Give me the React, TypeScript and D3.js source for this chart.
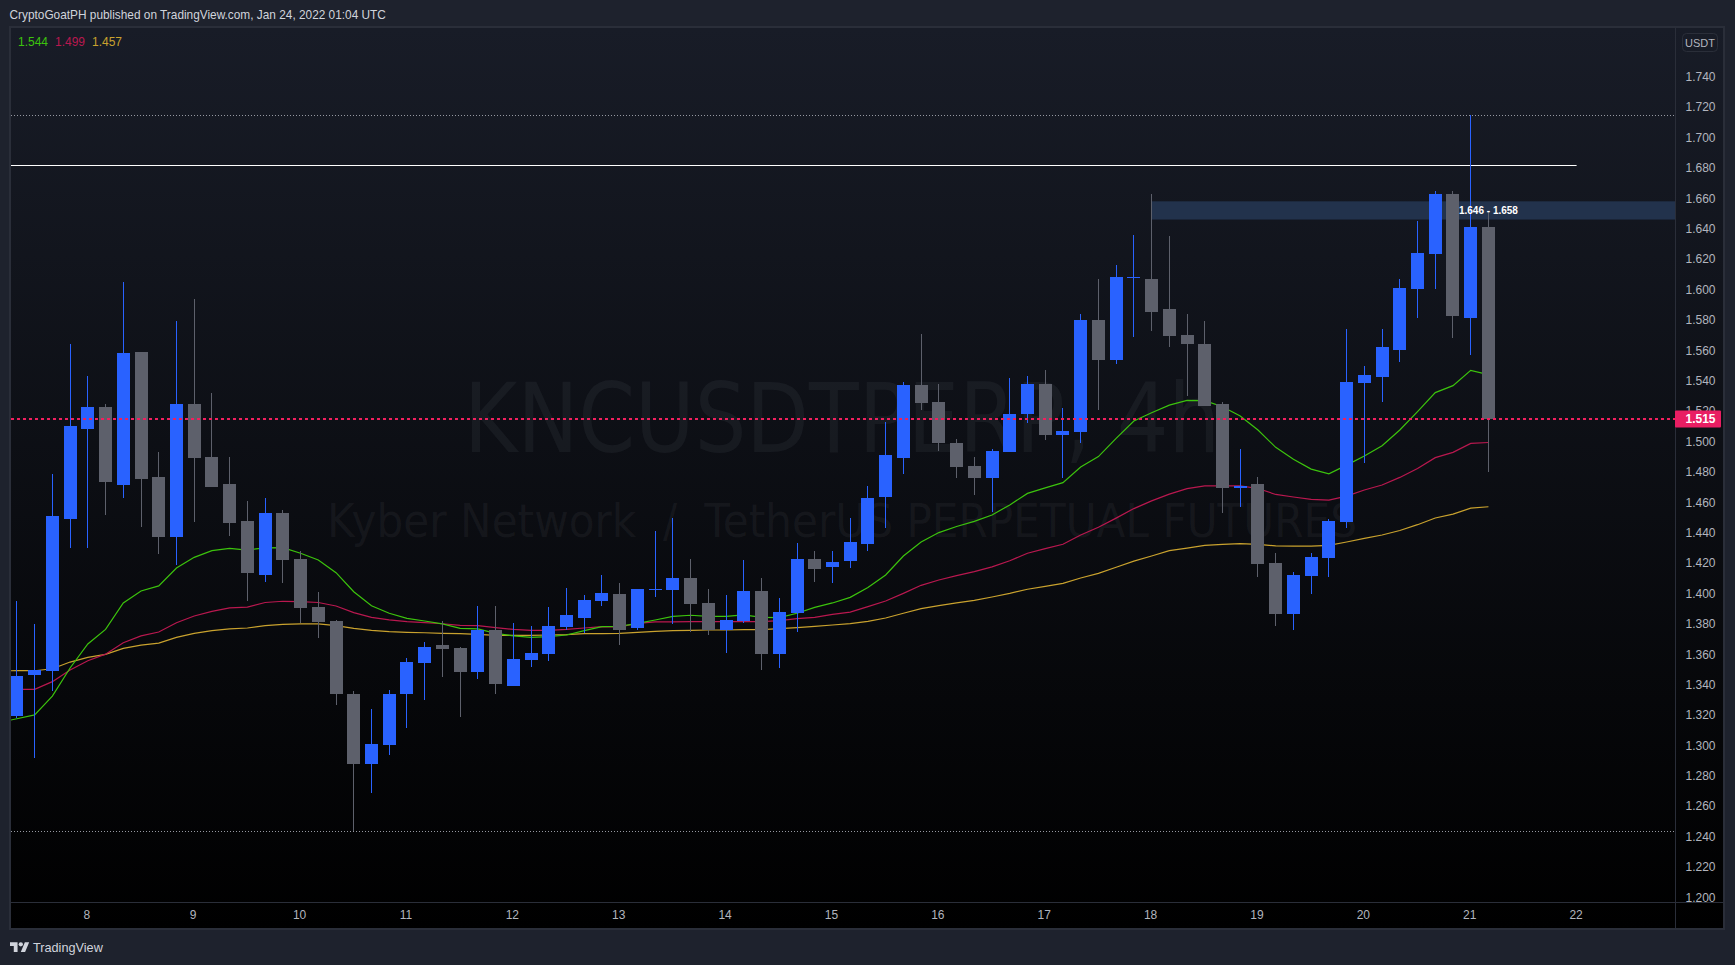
import * as d3 from 'd3';
import { useEffect, useRef } from 'react';

const WIDTH = 1735;
const HEIGHT = 965;

// candles, 4h bars
const opens = [
  1.3193, 1.3463, 1.3489, 1.4489, 1.5082, 1.5226, 1.4713, 1.5588, 1.4766, 1.4371, 1.5246, 1.4897, 1.472, 1.4476,
  1.4121, 1.4529, 1.4226, 1.391, 1.3818, 1.3338, 1.2877, 1.3002, 1.3338, 1.3542, 1.366, 1.364, 1.3482, 1.3759,
  1.339, 1.3561, 1.3601, 1.3779, 1.3838, 1.395, 1.3996, 1.3772, 1.4022, 1.4022, 1.4101, 1.3937, 1.3759, 1.3818,
  1.4015, 1.3601, 1.387, 1.4226, 1.4173, 1.4213, 1.4325, 1.4634, 1.4891, 1.5371, 1.5259, 1.499, 1.4838, 1.4759,
  1.493, 1.518, 1.5378, 1.5042, 1.5062, 1.5799, 1.5536, 1.6076, 1.6069, 1.5872, 1.5701, 1.5641, 1.5247, 1.4693,
  1.4719, 1.42, 1.3864, 1.4114, 1.4232, 1.4469, 1.5385, 1.5424, 1.5602, 1.6003, 1.6234, 1.6628, 1.5812, 1.6411,
];
const highs = [
  1.395, 1.38, 1.4786, 1.5641, 1.543, 1.5246, 1.6049, 1.5588, 1.493, 1.579, 1.5937, 1.5319, 1.4897, 1.4608,
  1.4628, 1.4549, 1.4279, 1.4009, 1.3825, 1.3357, 1.3239, 1.3364, 1.3575, 1.368, 1.3818, 1.3647, 1.3917, 1.3917,
  1.3805, 1.3785, 1.391, 1.4035, 1.399, 1.4121, 1.4068, 1.4029, 1.441, 1.4496, 1.4226, 1.4029, 1.399, 1.422,
  1.4101, 1.397, 1.4332, 1.4279, 1.4279, 1.4496, 1.4707, 1.5128, 1.5391, 1.5707, 1.5378, 1.5016, 1.4897, 1.495,
  1.5417, 1.543, 1.547, 1.522, 1.5838, 1.6069, 1.6161, 1.6358, 1.6628, 1.6352, 1.5839, 1.5793, 1.526, 1.495,
  1.4765, 1.4265, 1.414, 1.4265, 1.4489, 1.574, 1.5497, 1.574, 1.6069, 1.6451, 1.6648, 1.6648, 1.7146, 1.6517,
];
const lows = [
  1.318, 1.2919, 1.3357, 1.4299, 1.4299, 1.4516, 1.4628, 1.4437, 1.4259, 1.4187, 1.447, 1.47, 1.4378, 1.395,
  1.4075, 1.4068, 1.3805, 1.3706, 1.3265, 1.2436, 1.2686, 1.2936, 1.3114, 1.3298, 1.345, 1.3186, 1.3436, 1.3338,
  1.339, 1.3515, 1.3555, 1.376, 1.3737, 1.3917, 1.366, 1.3759, 1.3976, 1.38, 1.3746, 1.3726, 1.3607, 1.3805,
  1.3496, 1.3509, 1.3746, 1.4075, 1.4068, 1.4167, 1.4279, 1.443, 1.4786, 1.5207, 1.4937, 1.4759, 1.4647, 1.4536,
  1.493, 1.5121, 1.5009, 1.4759, 1.499, 1.5207, 1.551, 1.5687, 1.5726, 1.5622, 1.5299, 1.5233, 1.4528, 1.4568,
  1.4107, 1.3785, 1.3758, 1.3995, 1.4107, 1.443, 1.4857, 1.526, 1.5523, 1.5812, 1.6003, 1.5681, 1.5569, 1.4798,
];
const closes = [
  1.3456, 1.3496, 1.4509, 1.5101, 1.5226, 1.4733, 1.5582, 1.4753, 1.4371, 1.5246, 1.4891, 1.47, 1.4463, 1.4134,
  1.4529, 1.422, 1.3904, 1.3812, 1.3338, 1.2877, 1.3009, 1.3338, 1.3548, 1.3647, 1.3634, 1.3482, 1.3759, 1.3403,
  1.3568, 1.3607, 1.3785, 1.3858, 1.3956, 1.4, 1.3759, 1.4029, 1.4029, 1.4101, 1.393, 1.3759, 1.3825, 1.4016,
  1.3601, 1.3877, 1.4226, 1.416, 1.4206, 1.4338, 1.4628, 1.4911, 1.5371, 1.5253, 1.499, 1.4832, 1.4759, 1.4937,
  1.518, 1.5378, 1.5042, 1.5069, 1.5799, 1.5536, 1.6082, 1.6082, 1.5852, 1.5694, 1.5641, 1.5233, 1.4693, 1.4706,
  1.4193, 1.3864, 1.412, 1.4239, 1.4476, 1.5391, 1.5437, 1.5622, 1.601, 1.624, 1.6628, 1.5826, 1.6411, 1.515,
];

// moving averages, first value belongs to the bar just off the left edge
const greenLine = [
  1.315, 1.3175, 1.32, 1.3324, 1.3509, 1.3667, 1.3763, 1.3937, 1.4016, 1.4049, 1.4167, 1.4237, 1.4281, 1.4296,
  1.4285, 1.43, 1.4301, 1.4264, 1.422, 1.4136, 1.4011, 1.3919, 1.3869, 1.3836, 1.3818, 1.3799, 1.377, 1.3766,
  1.3737, 1.372, 1.3711, 1.3715, 1.3726, 1.3755, 1.3781, 1.3783, 1.3803, 1.3825, 1.3849, 1.3856, 1.3849, 1.3849,
  1.3858, 1.3842, 1.384, 1.3869, 1.3908, 1.3937, 1.3974, 1.4038, 1.4121, 1.4246, 1.4338, 1.44, 1.444, 1.4474,
  1.4516, 1.4582, 1.4658, 1.4694, 1.4729, 1.4832, 1.49, 1.502, 1.5134, 1.5189, 1.5239, 1.527, 1.5268, 1.5228,
  1.5167, 1.5075, 1.4961, 1.4882, 1.4818, 1.4787, 1.4844, 1.4904, 1.4971, 1.5075, 1.5196, 1.5321, 1.5367, 1.5468,
  1.544,
];
const redLine = [
  1.3365, 1.3368, 1.3368, 1.3419, 1.3496, 1.3557, 1.36, 1.3675, 1.372, 1.3746, 1.3807, 1.3851, 1.3882, 1.3904,
  1.391, 1.394, 1.3948, 1.3946, 1.394, 1.3917, 1.3873, 1.3842, 1.3825, 1.3814, 1.3807, 1.38, 1.379, 1.3788,
  1.3775, 1.3763, 1.3757, 1.3757, 1.3763, 1.3772, 1.3781, 1.3779, 1.3803, 1.3812, 1.3812, 1.3814, 1.3814, 1.3814,
  1.3814, 1.3814, 1.3821, 1.3834, 1.3842, 1.3862, 1.3877, 1.3913, 1.395, 1.4, 1.4053, 1.4088, 1.4117, 1.4143,
  1.4174, 1.4215, 1.4264, 1.4294, 1.4323, 1.4384, 1.4435, 1.4495, 1.4558, 1.4609, 1.4653, 1.4689, 1.4708, 1.4708,
  1.4708, 1.469, 1.4651, 1.4634, 1.4618, 1.4614, 1.464, 1.468, 1.4713, 1.4763, 1.4822, 1.4893, 1.4928, 1.4987,
  1.4993,
];
const yellowLine = [
  1.349, 1.3491, 1.3491, 1.3504, 1.3548, 1.3579, 1.3599, 1.3638, 1.366, 1.3673, 1.371, 1.3737, 1.3755, 1.3766,
  1.3772, 1.3788, 1.3796, 1.3799, 1.3799, 1.3788, 1.377, 1.3757, 1.3748, 1.3744, 1.3741, 1.3737, 1.3735, 1.373,
  1.3724, 1.3724, 1.3724, 1.3726, 1.3728, 1.3735, 1.3735, 1.3737, 1.3744, 1.375, 1.3755, 1.3757, 1.3759, 1.3759,
  1.3761, 1.3761, 1.3768, 1.3775, 1.3783, 1.3792, 1.3801, 1.3816, 1.3838, 1.3869, 1.39, 1.3919, 1.3937, 1.3954,
  1.3976, 1.4, 1.4027, 1.4046, 1.4066, 1.4101, 1.4132, 1.4172, 1.4212, 1.4246, 1.4281, 1.4298, 1.4316, 1.4322,
  1.4327, 1.4322, 1.4313, 1.4311, 1.4311, 1.4316, 1.4338, 1.4362, 1.4384, 1.4414, 1.4452, 1.4496, 1.4522, 1.4561,
  1.457,
];

const priceTicks = [
  1.2, 1.22, 1.24, 1.26, 1.28, 1.3, 1.32, 1.34, 1.36, 1.38, 1.4, 1.42, 1.44, 1.46, 1.48, 1.5, 1.52, 1.54, 1.56, 1.58,
  1.6, 1.62, 1.64, 1.66, 1.68, 1.7, 1.72, 1.74,
];
const dayLabels = ['8', '9', '10', '11', '12', '13', '14', '15', '16', '17', '18', '19', '20', '21', '22'];
const dayBars = [4, 10, 16, 22, 28, 34, 40, 46, 52, 58, 64, 70, 76, 82, 88];

const legendValues = ['1.544', '1.499', '1.457'];
const lastPrice = 1.515;
const highLevel = 1.7146;
const lowLevel = 1.2436;
const whiteLevel = 1.6819;
const zoneLow = 1.646;
const zoneHigh = 1.658;
const zoneStartBar = 64;
const whiteEndBar = 88;

const BLUE = '#2962ff';
const GRAY = '#5d606b';
const GREEN = '#3cc30d';
const RED = '#b9184f';
const YELLOW = '#c9a22e';
const UI_FONT = '"Liberation Sans", Arial, sans-serif';

const App = () => {
  const svgRef = useRef<SVGSVGElement | null>(null);

  useEffect(() => {
    const svg = d3.select(svgRef.current);
    svg.selectAll('*').remove();

    const plot = { left: 11, right: 1675, top: 28, bottom: 902, outerRight: 1723, outerBottom: 928 };
    const x = d3.scaleLinear().domain([0, 88]).range([16.4, 1576.6]);
    const y = d3.scaleLinear().domain([1.74, 1.2]).range([76.7, 897.3]);
    const barX = (i: number) => Math.round(x(i));

    // frame and background
    svg.append('rect').attr('width', WIDTH).attr('height', HEIGHT).attr('fill', '#1e222d');
    const defs = svg.append('defs');
    const grad = defs
      .append('linearGradient')
      .attr('id', 'pane-bg')
      .attr('x1', 0)
      .attr('x2', 0)
      .attr('y1', 0)
      .attr('y2', 1);
    grad.append('stop').attr('offset', '0%').attr('stop-color', '#181c27');
    grad.append('stop').attr('offset', '100%').attr('stop-color', '#000000');
    defs
      .append('clipPath')
      .attr('id', 'pane-clip')
      .append('rect')
      .attr('x', plot.left)
      .attr('y', plot.top)
      .attr('width', plot.right - plot.left)
      .attr('height', plot.bottom - plot.top);

    svg
      .append('rect')
      .attr('x', plot.left - 2)
      .attr('y', plot.top - 2)
      .attr('width', plot.outerRight - plot.left + 4)
      .attr('height', plot.outerBottom - plot.top + 4)
      .attr('fill', '#2a2e39');
    svg
      .append('rect')
      .attr('x', plot.left)
      .attr('y', plot.top)
      .attr('width', plot.outerRight - plot.left)
      .attr('height', plot.outerBottom - plot.top)
      .attr('fill', 'url(#pane-bg)');

    // watermark
    const mark = svg.append('g').attr('fill', '#787b86').attr('fill-opacity', 0.1).attr('text-anchor', 'middle');
    mark
      .append('text')
      .attr('x', 842)
      .attr('y', 451.5)
      .attr('font-family', '"DejaVu Sans", sans-serif')
      .attr('font-size', 96)
      .attr('textLength', 756)
      .attr('lengthAdjust', 'spacingAndGlyphs')
      .text('KNCUSDTPERP, 4h');
    mark
      .append('text')
      .attr('x', 842)
      .attr('y', 536.5)
      .attr('font-family', '"DejaVu Sans", sans-serif')
      .attr('font-size', 46)
      .attr('textLength', 1030)
      .attr('lengthAdjust', 'spacingAndGlyphs')
      .style('white-space', 'pre')
      .text('Kyber Network  /  TetherUS PERPETUAL FUTURES');

    const pane = svg.append('g').attr('clip-path', 'url(#pane-clip)');

    // drawings
    pane
      .append('rect')
      .attr('x', x(zoneStartBar) + 0.5)
      .attr('y', y(zoneHigh))
      .attr('width', plot.right - x(zoneStartBar))
      .attr('height', y(zoneLow) - y(zoneHigh))
      .attr('fill', '#22324c');
    [highLevel, lowLevel].forEach((level) => {
      pane
        .append('line')
        .attr('x1', plot.left)
        .attr('x2', plot.right)
        .attr('y1', Math.round(y(level)) + 0.5)
        .attr('y2', Math.round(y(level)) + 0.5)
        .attr('stroke', '#9598a1')
        .attr('stroke-width', 1)
        .attr('stroke-dasharray', '1 2');
    });
    pane
      .append('line')
      .attr('x1', plot.left)
      .attr('x2', x(whiteEndBar))
      .attr('y1', Math.round(y(whiteLevel)) + 0.5)
      .attr('y2', Math.round(y(whiteLevel)) + 0.5)
      .attr('stroke', '#ffffff')
      .attr('stroke-width', 1);

    // moving averages
    const line = d3
      .line<number>()
      .x((_, i) => x(i - 1) + 0.5)
      .y((d) => y(d));
    [
      { values: yellowLine, color: YELLOW },
      { values: redLine, color: RED },
      { values: greenLine, color: GREEN },
    ].forEach((s) => {
      pane
        .append('path')
        .attr('d', line(s.values))
        .attr('fill', 'none')
        .attr('stroke', s.color)
        .attr('stroke-width', 1.2);
    });

    // candles
    const bars = d3.range(opens.length);
    const candleColor = (i: number) => (closes[i] >= opens[i] ? BLUE : GRAY);
    pane
      .selectAll('rect.wick')
      .data(bars)
      .enter()
      .append('rect')
      .attr('class', 'wick')
      .attr('x', (i) => barX(i))
      .attr('y', (i) => y(highs[i]))
      .attr('width', 1)
      .attr('height', (i) => y(lows[i]) - y(highs[i]))
      .attr('fill', candleColor)
      .attr('shape-rendering', 'crispEdges');
    pane
      .selectAll('rect.body')
      .data(bars)
      .enter()
      .append('rect')
      .attr('class', 'body')
      .attr('x', (i) => barX(i) - 6)
      .attr('y', (i) => y(Math.max(opens[i], closes[i])))
      .attr('width', 13)
      .attr('height', (i) => Math.max(1, Math.abs(y(opens[i]) - y(closes[i]))))
      .attr('fill', candleColor)
      .attr('shape-rendering', 'crispEdges');

    // last price line
    pane
      .append('line')
      .attr('x1', plot.left)
      .attr('x2', plot.right)
      .attr('y1', Math.round(y(lastPrice)))
      .attr('y2', Math.round(y(lastPrice)))
      .attr('stroke', '#f0205f')
      .attr('stroke-width', 2)
      .attr('stroke-dasharray', '3 3');

    // zone label
    svg
      .append('text')
      .attr('x', x(83) + 0.5)
      .attr('y', (y(zoneLow) + y(zoneHigh)) / 2)
      .attr('dy', '0.36em')
      .attr('text-anchor', 'middle')
      .attr('fill', '#ffffff')
      .attr('font-family', UI_FONT)
      .attr('font-size', 10)
      .attr('font-weight', 700)
      .text(`${zoneLow.toFixed(3)} - ${zoneHigh.toFixed(3)}`);

    // axes
    const styleAxis = (g: d3.Selection<SVGGElement, unknown, null, undefined>) => {
      g.select('.domain').remove();
      g.selectAll('.tick line').remove();
      g.selectAll('text')
        .attr('fill', '#b2b5be')
        .attr('font-family', UI_FONT)
        .attr('font-size', 12);
    };
    const priceAxis = d3
      .axisRight(y)
      .tickValues(priceTicks)
      .tickSize(0)
      .tickPadding(0)
      .tickFormat((d) => (d as number).toFixed(3));
    svg
      .append('g')
      .attr('transform', 'translate(1685.5,0)')
      .call(priceAxis as any)
      .call(styleAxis as any);

    const timeAxis = d3
      .axisBottom(x)
      .tickValues(dayBars)
      .tickSize(0)
      .tickPadding(0)
      .tickFormat((_, i) => dayLabels[i]);
    svg
      .append('g')
      .attr('transform', 'translate(-1,910)')
      .call(timeAxis as any)
      .call(styleAxis as any);

    // axis separators
    svg
      .append('rect')
      .attr('x', plot.right)
      .attr('y', plot.top)
      .attr('width', 1)
      .attr('height', plot.outerBottom - plot.top)
      .attr('fill', '#2a2e39');
    svg
      .append('rect')
      .attr('x', plot.left)
      .attr('y', plot.bottom)
      .attr('width', plot.outerRight - plot.left)
      .attr('height', 1)
      .attr('fill', '#2a2e39');

    // currency box
    svg
      .append('rect')
      .attr('x', 1682.5)
      .attr('y', 33.5)
      .attr('width', 35)
      .attr('height', 18)
      .attr('rx', 4)
      .attr('fill', 'none')
      .attr('stroke', '#2a2e39');
    svg
      .append('text')
      .attr('x', 1700)
      .attr('y', 46.5)
      .attr('text-anchor', 'middle')
      .attr('fill', '#b2b5be')
      .attr('font-family', UI_FONT)
      .attr('font-size', 11)
      .text('USDT');

    // price tag
    svg
      .append('rect')
      .attr('x', plot.right)
      .attr('y', Math.round(y(lastPrice)) - 8.5)
      .attr('width', 46)
      .attr('height', 17)
      .attr('rx', 1)
      .attr('fill', '#e91e63');
    svg
      .append('text')
      .attr('x', 1685.5)
      .attr('y', y(lastPrice))
      .attr('dy', '0.36em')
      .attr('fill', '#ffffff')
      .attr('font-family', UI_FONT)
      .attr('font-size', 12)
      .attr('font-weight', 700)
      .text(lastPrice.toFixed(3));

    // legend
    const legendColors = [GREEN, RED, YELLOW];
    svg
      .selectAll('text.legend')
      .data(legendValues)
      .enter()
      .append('text')
      .attr('class', 'legend')
      .attr('x', (_, i) => 18 + i * 37)
      .attr('y', 45.5)
      .attr('fill', (_, i) => legendColors[i])
      .attr('font-family', UI_FONT)
      .attr('font-size', 12)
      .text((d) => d);

    // header and footer
    svg
      .append('text')
      .attr('x', 9.5)
      .attr('y', 19)
      .attr('fill', '#d1d4dc')
      .attr('font-family', UI_FONT)
      .attr('font-size', 11.85)
      .text('CryptoGoatPH published on TradingView.com, Jan 24, 2022 01:04 UTC');
    const logo = svg.append('g').attr('transform', 'translate(10,940) scale(0.54)').attr('fill', '#d1d4dc');
    logo.append('path').attr('d', 'M14 22H7V11H0V4h14v18zM28 22h-8l7.5-18h8L28 22z');
    logo.append('circle').attr('cx', 20).attr('cy', 8).attr('r', 4);
    svg
      .append('text')
      .attr('x', 33)
      .attr('y', 952)
      .attr('fill', '#d1d4dc')
      .attr('font-family', UI_FONT)
      .attr('font-size', 12.7)
      .text('TradingView');
  }, []);

  return (
    <svg
      ref={svgRef}
      width={WIDTH}
      height={HEIGHT}
      style={{ position: 'absolute', left: 0, top: 0, display: 'block' }}
    />
  );
};

export default App;
